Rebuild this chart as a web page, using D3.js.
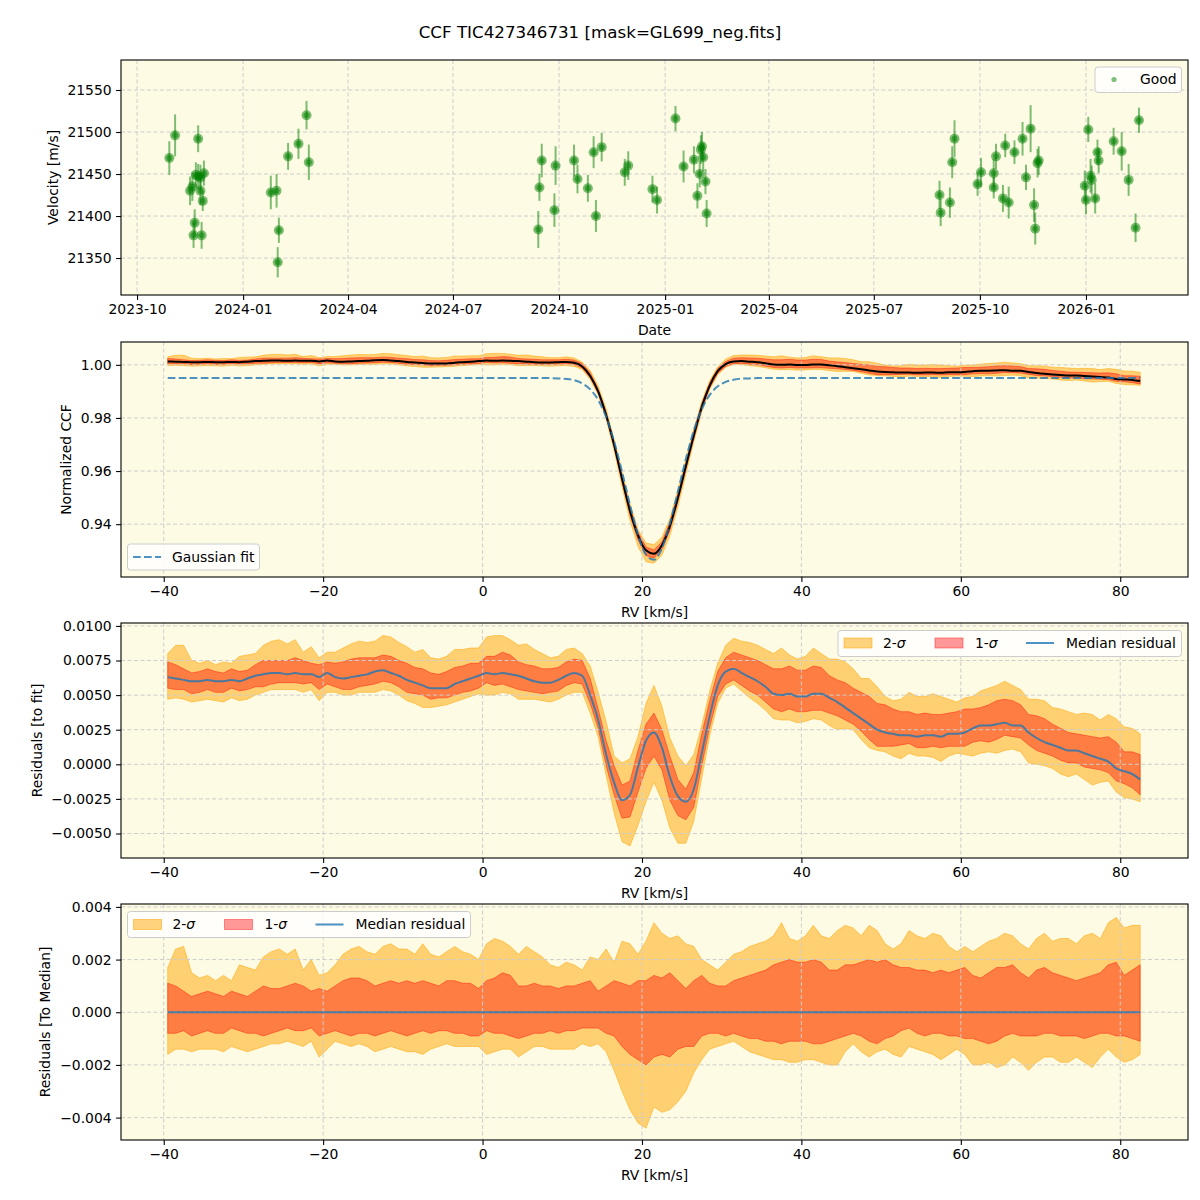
<!DOCTYPE html>
<html>
<head>
<meta charset="utf-8">
<script src="https://cdn.jsdelivr.net/npm/d3@7"></script>
<style>
  body { margin: 0; background: #fff; }
  svg text { font-family: "DejaVu Sans", sans-serif; }
</style>
</head>
<body>
<script>
// ---- top panel: RV time series
const obsDates = ["2023-10-29","2023-11-03","2023-11-16","2023-11-18","2023-11-19","2023-11-20","2023-11-21","2023-11-23","2023-11-23","2023-11-25","2023-11-25","2023-11-26","2023-11-27","2023-11-28",
  "2024-01-25","2024-01-30","2024-01-31","2024-02-01","2024-02-09","2024-02-18","2024-02-25","2024-02-27",
  "2024-09-13","2024-09-14","2024-09-16","2024-09-27","2024-09-28","2024-10-14","2024-10-17","2024-10-26","2024-10-31","2024-11-02","2024-11-07","2024-11-27","2024-11-30","2024-12-21","2024-12-25",
  "2025-01-10","2025-01-17","2025-01-26","2025-01-29","2025-01-31","2025-02-01","2025-02-02","2025-02-03","2025-02-05","2025-02-06",
  "2025-08-27","2025-08-28","2025-09-05","2025-09-07","2025-09-09","2025-09-29","2025-10-02","2025-10-13","2025-10-13","2025-10-15","2025-10-21","2025-10-23","2025-10-26","2025-10-31","2025-11-07","2025-11-10","2025-11-14","2025-11-17","2025-11-18","2025-11-20","2025-11-21",
  "2025-12-31","2026-01-01","2026-01-03","2026-01-05","2026-01-06","2026-01-09","2026-01-11","2026-01-12","2026-01-25","2026-02-01","2026-02-07","2026-02-13","2026-02-16"];
const obsVelocity = [21469,21496,21430,21435,21377,21392,21449,21447,21492,21446,21430,21377,21418,21451,
  21428,21430,21345,21383,21471,21486,21520,21464,
  21384,21434,21466,21407,21460,21466,21444,21433,21476,21400,21482,21452,21460,21432,21419,
  21516,21459,21467,21424,21450,21479,21483,21470,21441,21403,
  21425,21404,21416,21464,21492,21438,21452,21451,21434,21471,21421,21484,21416,21476,21492,21446,21504,21413,21385,21463,21466,
  21436,21419,21503,21448,21443,21421,21476,21466,21489,21477,21443,21386,21514];
const obsError = [20,25,17,17,15,16,15,15,16,15,17,16,12,15,
  20,20,18,15,16,18,17,21,
  22,16,20,20,23,19,17,16,19,19,17,16,17,16,16,
  15,19,16,15,16,17,17,17,15,16,
  17,16,18,19,22,14,17,17,13,15,16,14,19,14,20,15,28,20,19,17,17,
  18,17,15,20,17,18,15,15,16,23,19,17,15];

// ---- CCF on the RV grid (km/s), -39.5 .. 82.5 step 1
const rvGrid = d3.range(-39.5, 83, 1);
const gaussFit = [
  0.995,0.995,0.995,0.995,0.995,0.995,0.995,0.995,0.995,0.995,
  0.995,0.995,0.995,0.995,0.995,0.995,0.995,0.995,0.995,0.995,
  0.995,0.995,0.995,0.995,0.995,0.995,0.995,0.995,0.995,0.995,
  0.995,0.995,0.995,0.995,0.995,0.995,0.995,0.995,0.995,0.995,
  0.995,0.995,0.995,0.995,0.995,0.995,0.995,0.995,0.995,0.9949,
  0.9947,0.9942,0.9930,0.9908,0.9868,0.9804,0.9712,0.9597,0.9472,0.9360,
  0.9285,0.9266,0.9309,0.9402,0.9522,0.9645,0.9752,0.9833,0.9887,0.9919,
  0.9936,0.9944,0.9948,0.9949,0.995,0.995,0.995,0.995,0.995,0.995,
  0.995,0.995,0.995,0.995,0.995,0.995,0.995,0.995,0.995,0.995,
  0.995,0.995,0.995,0.995,0.995,0.995,0.995,0.995,0.995,0.995,
  0.995,0.995,0.995,0.995,0.995,0.995,0.995,0.995,0.995,0.995,
  0.995,0.995,0.995,0.995,0.995,0.995,0.995,0.995,0.995,0.995,
  0.995,0.995,0.995];
// median residual to the fit
const medianResid = [
  0.0063,0.0062,0.0061,0.0060,0.0060,0.0061,0.0060,0.0060,0.0061,0.0060,
  0.0062,0.0064,0.0065,0.0066,0.0066,0.0065,0.0066,0.0065,0.0065,0.0063,
  0.0066,0.0063,0.0062,0.0063,0.0064,0.0065,0.0067,0.0068,0.0066,0.0064,
  0.0061,0.0059,0.0057,0.0055,0.0055,0.0055,0.0058,0.0060,0.0062,0.0064,
  0.0066,0.0065,0.0066,0.0065,0.0064,0.0062,0.0060,0.0059,0.0059,0.0061,
  0.0064,0.0066,0.0064,0.0050,0.0032,0.0007,-0.0013,-0.0026,-0.0022,-0.0002,
  0.0017,0.0023,0.0012,-0.0009,-0.0023,-0.0027,-0.0018,0.0008,0.0035,0.0057,
  0.0067,0.0069,0.0066,0.0063,0.0060,0.0056,0.0051,0.0050,0.0051,0.0049,
  0.0049,0.0051,0.0051,0.0048,0.0045,0.0041,0.0037,0.0033,0.0029,0.0025,
  0.0023,0.0022,0.0021,0.0021,0.0020,0.0021,0.0021,0.0020,0.0022,0.0022,
  0.0023,0.0026,0.0028,0.0028,0.0029,0.0030,0.0028,0.0028,0.0023,0.0019,
  0.0016,0.0014,0.0012,0.0010,0.0010,0.0008,0.0006,0.0004,0.0002,-0.0003,
  -0.0005,-0.0007,-0.0011];
// percentiles relative to the median profile
const q975 = [
  0.0017,0.0024,0.0025,0.0015,0.0013,0.0014,0.0012,0.0014,0.0012,0.0018,
  0.0017,0.0016,0.0021,0.0023,0.0024,0.0022,0.0024,0.0016,0.0020,0.0014,
  0.0015,0.0018,0.0022,0.0024,0.0025,0.0023,0.0022,0.0025,0.0026,0.0024,
  0.0024,0.0022,0.0026,0.0022,0.0021,0.0023,0.0025,0.0023,0.0022,0.0020,
  0.0026,0.0028,0.0027,0.0025,0.0022,0.0025,0.0023,0.0021,0.0018,0.0017,
  0.0019,0.0018,0.0016,0.0021,0.0020,0.0024,0.0019,0.0027,0.0026,0.0022,
  0.0027,0.0034,0.0030,0.0028,0.0029,0.0026,0.0025,0.0020,0.0018,0.0016,
  0.0019,0.0022,0.0023,0.0025,0.0026,0.0027,0.0029,0.0034,0.0028,0.0027,
  0.0029,0.0033,0.0029,0.0028,0.0031,0.0033,0.0032,0.0029,0.0033,0.0031,
  0.0026,0.0024,0.0026,0.0031,0.0029,0.0028,0.0030,0.0029,0.0025,0.0023,
  0.0025,0.0023,0.0025,0.0027,0.0028,0.0030,0.0029,0.0026,0.0024,0.0028,
  0.0030,0.0027,0.0028,0.0028,0.0026,0.0029,0.0030,0.0028,0.0034,0.0036,
  0.0032,0.0033,0.0033];
const q84 = [
  0.0011,0.0010,0.0008,0.0006,0.0007,0.0008,0.0007,0.0006,0.0008,0.0007,
  0.0006,0.0008,0.0010,0.0009,0.0009,0.0010,0.0011,0.0010,0.0008,0.0009,
  0.0008,0.0010,0.0012,0.0013,0.0013,0.0012,0.0010,0.0011,0.0012,0.0011,
  0.0012,0.0011,0.0012,0.0011,0.0010,0.0012,0.0012,0.0011,0.0011,0.0009,
  0.0012,0.0013,0.0015,0.0014,0.0010,0.0010,0.0011,0.0010,0.0010,0.0009,
  0.0010,0.0010,0.0011,0.0012,0.0008,0.0010,0.0012,0.0011,0.0010,0.0012,
  0.0012,0.0014,0.0013,0.0015,0.0012,0.0009,0.0012,0.0014,0.0011,0.0010,
  0.0010,0.0012,0.0013,0.0014,0.0015,0.0016,0.0018,0.0019,0.0020,0.0019,
  0.0019,0.0020,0.0019,0.0016,0.0016,0.0018,0.0018,0.0019,0.0020,0.0019,
  0.0020,0.0018,0.0017,0.0017,0.0016,0.0016,0.0015,0.0016,0.0015,0.0016,
  0.0017,0.0014,0.0013,0.0015,0.0017,0.0017,0.0018,0.0015,0.0013,0.0016,
  0.0017,0.0015,0.0014,0.0013,0.0012,0.0013,0.0014,0.0015,0.0018,0.0019,
  0.0014,0.0016,0.0018];
const q16 = [
  -0.0008,-0.0008,-0.0007,-0.0009,-0.0008,-0.0007,-0.0008,-0.0008,-0.0006,-0.0007,
  -0.0008,-0.0008,-0.0009,-0.0008,-0.0007,-0.0006,-0.0007,-0.0007,-0.0006,-0.0009,
  -0.0008,-0.0007,-0.0008,-0.0009,-0.0008,-0.0008,-0.0009,-0.0008,-0.0007,-0.0008,
  -0.0009,-0.0008,-0.0007,-0.0008,-0.0007,-0.0007,-0.0008,-0.0008,-0.0009,-0.0009,
  -0.0007,-0.0008,-0.0008,-0.0009,-0.0010,-0.0009,-0.0008,-0.0008,-0.0007,-0.0008,
  -0.0007,-0.0007,-0.0006,-0.0006,-0.0006,-0.0008,-0.0009,-0.0013,-0.0016,-0.0018,
  -0.0020,-0.0017,-0.0016,-0.0017,-0.0014,-0.0013,-0.0013,-0.0009,-0.0008,-0.0008,
  -0.0009,-0.0008,-0.0009,-0.0010,-0.0010,-0.0011,-0.0011,-0.0012,-0.0011,-0.0011,
  -0.0011,-0.0012,-0.0012,-0.0011,-0.0010,-0.0009,-0.0008,-0.0009,-0.0011,-0.0012,
  -0.0010,-0.0009,-0.0007,-0.0006,-0.0008,-0.0009,-0.0008,-0.0008,-0.0009,-0.0009,
  -0.0010,-0.0010,-0.0011,-0.0012,-0.0011,-0.0009,-0.0008,-0.0009,-0.0009,-0.0009,
  -0.0008,-0.0008,-0.0009,-0.0009,-0.0009,-0.0010,-0.0009,-0.0008,-0.0008,-0.0009,
  -0.0009,-0.0010,-0.0011];
const q025 = [
  -0.0016,-0.0014,-0.0014,-0.0015,-0.0014,-0.0014,-0.0014,-0.0015,-0.0013,-0.0014,
  -0.0015,-0.0014,-0.0013,-0.0012,-0.0012,-0.0011,-0.0012,-0.0013,-0.0011,-0.0017,
  -0.0014,-0.0011,-0.0012,-0.0013,-0.0012,-0.0013,-0.0015,-0.0014,-0.0013,-0.0014,
  -0.0015,-0.0015,-0.0016,-0.0014,-0.0013,-0.0012,-0.0013,-0.0013,-0.0013,-0.0013,
  -0.0016,-0.0015,-0.0014,-0.0014,-0.0017,-0.0015,-0.0013,-0.0013,-0.0014,-0.0014,
  -0.0014,-0.0014,-0.0012,-0.0013,-0.0012,-0.0015,-0.0022,-0.0030,-0.0037,-0.0042,
  -0.0044,-0.0036,-0.0038,-0.0037,-0.0034,-0.0030,-0.0023,-0.0018,-0.0014,-0.0013,
  -0.0012,-0.0011,-0.0013,-0.0015,-0.0016,-0.0017,-0.0018,-0.0018,-0.0019,-0.0019,
  -0.0018,-0.0018,-0.0019,-0.0020,-0.0020,-0.0015,-0.0012,-0.0015,-0.0017,-0.0015,
  -0.0014,-0.0016,-0.0017,-0.0013,-0.0014,-0.0015,-0.0016,-0.0018,-0.0016,-0.0014,
  -0.0016,-0.0020,-0.0020,-0.0019,-0.0021,-0.0020,-0.0017,-0.0019,-0.0022,-0.0019,
  -0.0017,-0.0017,-0.0019,-0.0019,-0.0017,-0.0019,-0.0021,-0.0017,-0.0014,-0.0017,
  -0.0019,-0.0018,-0.0016];

// tick labels
const dateTicks = ["2023-10-01","2024-01-01","2024-04-01","2024-07-01","2024-10-01","2025-01-01","2025-04-01","2025-07-01","2025-10-01","2026-01-01"];
const velTicks = [21350, 21400, 21450, 21500, 21550];
const ccfTicks = [0.94, 0.96, 0.98, 1.00];
const resTicks = [-0.005, -0.0025, 0, 0.0025, 0.005, 0.0075, 0.01];
const medTicks = [-0.004, -0.002, 0, 0.002, 0.004];
const rvTicks = [-40, -20, 0, 20, 40, 60, 80];

const left = 121, right = 1188;
const bg = "#fdfbe3", gridCol = "#cdcdcd";
const fs = "13.9px";
const parseDate = d3.utcParse("%Y-%m-%d");

const svg = d3.select("body").append("svg")
    .attr("width", 1200)
    .attr("height", 1200);

svg.append("text")
    .attr("x", 600).attr("y", 38)
    .attr("text-anchor", "middle")
    .style("font-size", "16.7px")
    .text("CCF TIC427346731 [mask=GL699_neg.fits]");

// scales
const xDate = d3.scaleUtc()
    .domain([new Date(Date.UTC(2023, 8, 17, 2)), new Date(Date.UTC(2026, 2, 30, 12))])
    .range([left, right]);
const xRV = d3.scaleLinear().domain([-45.36, 88.5]).range([left, right]);
const yVel = d3.scaleLinear().domain([21306, 21585.7]).range([295, 60]);
const yCCF = d3.scaleLinear().domain([0.9201, 1.0086]).range([577, 342]);
const yRes = d3.scaleLinear().domain([-0.00677, 0.01021]).range([858, 623]);
const yMed = d3.scaleLinear().domain([-0.00485, 0.00411]).range([1140, 904]);

const panels = [
  {top: 60, bottom: 295, x: xDate, y: yVel, xt: dateTicks.map(parseDate), yt: velTicks,
   xf: d3.utcFormat("%Y-%m"), yf: d3.format("d"), xl: "Date", yl: "Velocity [m/s]", ylx: 53},
  {top: 342, bottom: 577, x: xRV, y: yCCF, xt: rvTicks, yt: ccfTicks,
   xf: d3.format("d"), yf: d3.format(".2f"), xl: "RV [km/s]", yl: "Normalized CCF", ylx: 66},
  {top: 623, bottom: 858, x: xRV, y: yRes, xt: rvTicks, yt: resTicks,
   xf: d3.format("d"), yf: d3.format(".4f"), xl: "RV [km/s]", yl: "Residuals [to fit]", ylx: 37},
  {top: 904, bottom: 1140, x: xRV, y: yMed, xt: rvTicks, yt: medTicks,
   xf: d3.format("d"), yf: d3.format(".3f"), xl: "RV [km/s]", yl: "Residuals [To Median]", ylx: 45}
];

// background, fill layer, grid, line layer for each panel
panels.forEach((p, k) => {
  svg.append("rect")
      .attr("x", left).attr("y", p.top)
      .attr("width", right - left).attr("height", p.bottom - p.top)
      .attr("fill", bg);
  svg.append("clipPath").attr("id", "clip" + k)
    .append("rect")
      .attr("x", left).attr("y", p.top)
      .attr("width", right - left).attr("height", p.bottom - p.top);
  p.fills = svg.append("g").attr("clip-path", `url(#clip${k})`);
  const grid = svg.append("g");
  grid.selectAll(".vg").data(p.xt).enter().append("line")
      .attr("x1", d => p.x(d)).attr("x2", d => p.x(d))
      .attr("y1", p.top).attr("y2", p.bottom)
      .attr("stroke", gridCol).attr("stroke-width", 1).attr("stroke-dasharray", "4,2.5");
  grid.selectAll(".hg").data(p.yt).enter().append("line")
      .attr("x1", left).attr("x2", right)
      .attr("y1", d => p.y(d)).attr("y2", d => p.y(d))
      .attr("stroke", gridCol).attr("stroke-width", 1).attr("stroke-dasharray", "4,2.5");
  p.lines = svg.append("g").attr("clip-path", `url(#clip${k})`);
});

// ---- panel 1: velocities with error bars
const p1 = panels[0].lines;
p1.selectAll(".err").data(obsDates).enter().append("line")
    .attr("x1", (d, i) => xDate(parseDate(d)))
    .attr("x2", (d, i) => xDate(parseDate(d)))
    .attr("y1", (d, i) => yVel(obsVelocity[i] - obsError[i]))
    .attr("y2", (d, i) => yVel(obsVelocity[i] + obsError[i]))
    .attr("stroke", "green").attr("stroke-opacity", 0.5).attr("stroke-width", 2);
p1.selectAll(".mk").data(obsDates).enter().append("circle")
    .attr("cx", (d, i) => xDate(parseDate(d)))
    .attr("cy", (d, i) => yVel(obsVelocity[i]))
    .attr("r", 5).attr("fill", "green").attr("fill-opacity", 0.5);
p1.selectAll(".dot").data(obsDates).enter().append("circle")
    .attr("cx", (d, i) => xDate(parseDate(d)))
    .attr("cy", (d, i) => yVel(obsVelocity[i]))
    .attr("r", 3).attr("fill", "green").attr("fill-opacity", 0.5);

// ---- bands helper
function bandPath(y, base, lo, hi) {
  return d3.area()
      .x((d, i) => xRV(rvGrid[i]))
      .y0((d, i) => y(base[i] + lo[i]))
      .y1((d, i) => y(base[i] + hi[i]))(rvGrid);
}
function drawBands(g, y, base) {
  g.append("path").attr("d", bandPath(y, base, q025, q975))
      .attr("fill", "orange").attr("fill-opacity", 0.5)
      .attr("stroke", "orange").attr("stroke-opacity", 0.5).attr("stroke-width", 1);
  g.append("path").attr("d", bandPath(y, base, q16, q84))
      .attr("fill", "red").attr("fill-opacity", 0.4)
      .attr("stroke", "red").attr("stroke-opacity", 0.4).attr("stroke-width", 1);
}
function linePath(y, vals, curve) {
  return d3.line()
      .x((d, i) => xRV(rvGrid[i]))
      .y((d, i) => y(vals[i]))
      .curve(curve || d3.curveLinear)(rvGrid);
}

// ---- panel 2: normalized CCF
const ccfMedian = rvGrid.map((d, i) => gaussFit[i] + medianResid[i]);
drawBands(panels[1].fills, yCCF, ccfMedian);
panels[1].lines.append("path").attr("d", linePath(yCCF, ccfMedian, d3.curveMonotoneX))
    .attr("fill", "none").attr("stroke", "black").attr("stroke-width", 2);
panels[1].lines.append("path").attr("d", linePath(yCCF, gaussFit, d3.curveMonotoneX))
    .attr("fill", "none").attr("stroke", "#1f77b4").attr("stroke-opacity", 0.8)
    .attr("stroke-width", 2).attr("stroke-dasharray", "7.7,3.3");

// ---- panel 3: residuals to fit
drawBands(panels[2].fills, yRes, medianResid);
panels[2].lines.append("path").attr("d", linePath(yRes, medianResid, d3.curveMonotoneX))
    .attr("fill", "none").attr("stroke", "#1f77b4").attr("stroke-opacity", 0.8).attr("stroke-width", 2);

// ---- panel 4: residuals to median
const zeros = rvGrid.map(() => 0);
drawBands(panels[3].fills, yMed, zeros);
panels[3].lines.append("path").attr("d", linePath(yMed, zeros))
    .attr("fill", "none").attr("stroke", "#1f77b4").attr("stroke-opacity", 0.8).attr("stroke-width", 2);

// ---- axes, frames, labels
panels.forEach(p => {
  const ax = svg.append("g")
      .attr("transform", `translate(0,${p.bottom})`)
      .call(d3.axisBottom(p.x).tickValues(p.xt).tickFormat(p.xf).tickSize(4.9).tickPadding(4.5));
  const ay = svg.append("g")
      .attr("transform", `translate(${left},0)`)
      .call(d3.axisLeft(p.y).tickValues(p.yt).tickFormat(p.yf).tickSize(4.9).tickPadding(4.5));
  [ax, ay].forEach(a => {
    a.select(".domain").remove();
    a.attr("font-size", null).attr("font-family", null);
    a.selectAll("text").style("font-size", fs).attr("fill", "#000");
    a.selectAll("line").attr("stroke", "#000").attr("stroke-width", 1.1);
  });
  svg.append("rect")
      .attr("x", left).attr("y", p.top)
      .attr("width", right - left).attr("height", p.bottom - p.top)
      .attr("fill", "none").attr("stroke", "#000").attr("stroke-width", 1.1);
  svg.append("text")
      .attr("x", (left + right) / 2).attr("y", p.bottom + 40)
      .attr("text-anchor", "middle").style("font-size", fs)
      .text(p.xl);
  svg.append("text")
      .attr("transform", `translate(${p.ylx},${(p.top + p.bottom) / 2}) rotate(-90)`)
      .attr("text-anchor", "middle").attr("dy", "0.35em").style("font-size", fs)
      .text(p.yl);
});

// ---- legends
function legendFrame(x, y, w, h) {
  svg.append("rect")
      .attr("x", x).attr("y", y).attr("width", w).attr("height", h).attr("rx", 3)
      .attr("fill", "white").attr("fill-opacity", 0.8)
      .attr("stroke", "#cccccc").attr("stroke-width", 1);
}
function legendText(x, y, label, sigma) {
  const t = svg.append("text").attr("x", x).attr("y", y).attr("dy", "0.35em").style("font-size", fs);
  if (sigma) {
    t.append("tspan").text(label);
    t.append("tspan").style("font-style", "italic").text("σ");
  } else {
    t.text(label);
  }
}
function sigmaLegend(x0, yc) {
  svg.append("rect").attr("x", x0 + 6).attr("y", yc - 5).attr("width", 28).attr("height", 10)
      .attr("fill", "orange").attr("fill-opacity", 0.5)
      .attr("stroke", "orange").attr("stroke-opacity", 0.5);
  legendText(x0 + 45, yc, "2-", true);
  svg.append("rect").attr("x", x0 + 97).attr("y", yc - 5).attr("width", 28).attr("height", 10)
      .attr("fill", "red").attr("fill-opacity", 0.4)
      .attr("stroke", "red").attr("stroke-opacity", 0.4);
  legendText(x0 + 137, yc, "1-", true);
  svg.append("line").attr("x1", x0 + 188).attr("x2", x0 + 216).attr("y1", yc).attr("y2", yc)
      .attr("stroke", "#1f77b4").attr("stroke-opacity", 0.8).attr("stroke-width", 2);
  legendText(x0 + 228, yc, "Median residual");
}

// panel 1 legend
legendFrame(1095, 67, 86.5, 25.5);
svg.append("circle").attr("cx", 1114).attr("cy", 79.5).attr("r", 2.6)
    .attr("fill", "green").attr("fill-opacity", 0.5);
legendText(1140, 79.5, "Good");

// panel 2 legend
legendFrame(127.5, 544, 132, 26);
svg.append("line").attr("x1", 133).attr("x2", 161).attr("y1", 557).attr("y2", 557)
    .attr("stroke", "#1f77b4").attr("stroke-opacity", 0.8).attr("stroke-width", 2)
    .attr("stroke-dasharray", "7.7,3.3");
legendText(172, 557, "Gaussian fit");

// panel 3 legend
legendFrame(838, 630.5, 343.5, 26);
sigmaLegend(838, 643);

// panel 4 legend
legendFrame(127.5, 911.5, 343, 26);
sigmaLegend(127.5, 924.5);
</script>
</body>
</html>
